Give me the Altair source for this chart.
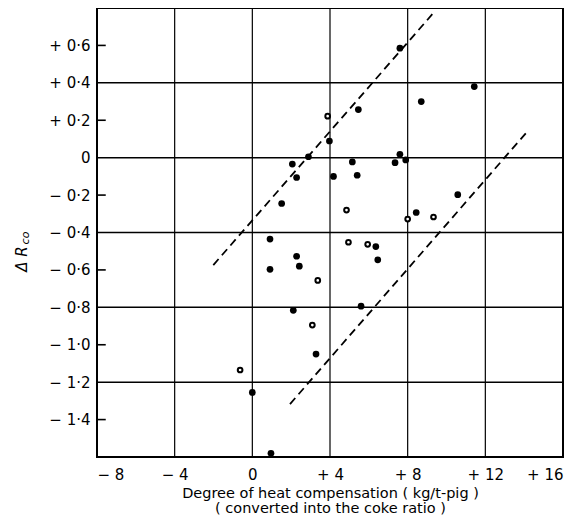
import altair as alt
import pandas as pd

# Filled points (degree of heat compensation, delta R_co)
filled_x = [7.6, 11.43, 8.7, 5.46, 3.97, 2.89, 2.06, 2.28, 1.51, 5.15, 5.4, 4.18,
            7.6, 7.35, 7.9, 10.58, 8.44, 6.36, 6.46, 5.6, 0.91, 0.91, 2.28, 2.42,
            2.11, 3.28, 0.0, 0.96]
filled_y = [0.585, 0.38, 0.30, 0.257, 0.089, 0.005, -0.034, -0.106, -0.245, -0.023, -0.094, -0.10,
            0.018, -0.027, -0.012, -0.198, -0.293, -0.475, -0.546, -0.794, -0.597, -0.435, -0.527, -0.58,
            -0.816, -1.05, -1.255, -1.58]

# Open points
open_x = [3.88, 4.85, 8.0, 9.33, 4.95, 5.94, 3.37, 3.09, -0.63]
open_y = [0.222, -0.28, -0.328, -0.317, -0.452, -0.463, -0.656, -0.895, -1.135]

# Dashed band lines (start/end)
band_name = ["upper", "lower"]
band_x1 = [-2.01, 1.94]
band_y1 = [-0.574, -1.317]
band_x2 = [9.28, 14.14]
band_y2 = [0.768, 0.137]

# Axes
x_ticks = [-8, -4, 0, 4, 8, 12, 16]
x_tick_labels = ["\u2212 8", "\u2212 4", "0", "+ 4", "+ 8", "+ 12", "+ 16"]
y_ticks = [0.6, 0.2, -0.2, -0.6, -1.0, -1.4]
y_tick_labels = ["+ 0\u00b76", "+ 0\u00b74", "+ 0\u00b72", "0", "\u2212 0\u00b72", "\u2212 0\u00b74",
                 "\u2212 0\u00b76", "\u2212 0\u00b78", "\u2212 1\u00b70", "\u2212 1\u00b72", "\u2212 1\u00b74"]
y_label_values = [0.6, 0.4, 0.2, 0.0, -0.2, -0.4, -0.6, -0.8, -1.0, -1.2, -1.4]
x_grid = [-4, 0, 4, 8, 12]
y_grid = [0.4, 0.0, -0.4, -0.8, -1.2]
tick_start = -8.0
tick_end = -7.55

x_title = ["Degree of heat compensation  ( kg/t-pig )", "( converted into the coke ratio )"]

FONT = "DejaVu Sans"

def chain_expr(values, labels, scale):
    expr = "''"
    for v, l in reversed(list(zip(values, labels))):
        expr = f"(round(datum.value*{scale})=={round(v*scale)}) ? '{l}' : ({expr})"
    return expr

xs = alt.Scale(domain=[-8, 16], nice=False, zero=False)
ys = alt.Scale(domain=[-1.6, 0.8], nice=False, zero=False)

filled_df = pd.DataFrame({"x": filled_x, "y": filled_y})
open_df = pd.DataFrame({"x": open_x, "y": open_y})
band_df = pd.DataFrame({"name": band_name, "xa": band_x1, "ya": band_y1, "xb": band_x2, "yb": band_y2})
vgrid_df = pd.DataFrame({"x": x_grid})
hgrid_df = pd.DataFrame({"y": y_grid})
tick_df = pd.DataFrame({"ty": y_ticks, "ta": [tick_start] * len(y_ticks), "tb": [tick_end] * len(y_ticks)})

x_axis = alt.Axis(values=x_ticks, labelExpr=chain_expr(x_ticks, x_tick_labels, 1), grid=False,
                  ticks=False, tickSize=0, domain=False, labelPadding=10, labelFontSize=15,
                  labelFont=FONT, labelColor="black", title=x_title, titleFont=FONT,
                  titleFontSize=14.5, titleFontWeight="normal", titleColor="black",
                  titlePadding=4, titleLineHeight=15)
y_axis = alt.Axis(values=y_label_values, labelExpr=chain_expr(y_label_values, y_tick_labels, 10), grid=False,
                  ticks=False, tickSize=0, domain=False, labelPadding=7, labelFontSize=15,
                  labelFont=FONT, labelColor="black", title=None)

vgrid = alt.Chart(vgrid_df).mark_rule(color="black", strokeWidth=1.2).encode(
    x=alt.X("x:Q", scale=xs, axis=x_axis))
hgrid = alt.Chart(hgrid_df).mark_rule(color="black", strokeWidth=1.5).encode(
    y=alt.Y("y:Q", scale=ys, axis=y_axis))
ticks = alt.Chart(tick_df).mark_rule(color="black", strokeWidth=1.6).encode(
    x=alt.X("ta:Q", scale=xs), x2=alt.X2("tb:Q"), y=alt.Y("ty:Q", scale=ys))
bands = alt.Chart(band_df).mark_rule(color="black", strokeWidth=1.8, strokeDash=[8, 5]).encode(
    x=alt.X("xa:Q", scale=xs), x2=alt.X2("xb:Q"), y=alt.Y("ya:Q", scale=ys), y2=alt.Y2("yb:Q"))
pts_filled = alt.Chart(filled_df).mark_point(shape="circle", filled=True, color="black", size=45, opacity=1).encode(
    x=alt.X("x:Q", scale=xs), y=alt.Y("y:Q", scale=ys))
pts_open = alt.Chart(open_df).mark_point(shape="circle", filled=False, stroke="black", fill="white",
                                         fillOpacity=1, strokeWidth=2, size=22, opacity=1).encode(
    x=alt.X("x:Q", scale=xs), y=alt.Y("y:Q", scale=ys))

ylab_df = pd.DataFrame({"t": ["\u0394 R"]})
ysub_df = pd.DataFrame({"t": ["co"]})
ylab = alt.Chart(ylab_df).mark_text(angle=270, fontStyle="italic", fontSize=15, font=FONT,
                                    baseline="middle", align="center", color="black").encode(
    text="t:N", x=alt.value(-75), y=alt.value(251))
ysub = alt.Chart(ysub_df).mark_text(angle=270, fontStyle="italic", fontSize=11, font=FONT,
                                    baseline="middle", align="center", color="black").encode(
    text="t:N", x=alt.value(-71), y=alt.value(230))

chart = alt.layer(vgrid, hgrid, ticks, bands, pts_open, pts_filled, ylab, ysub).properties(
    width=466, height=449,
    autosize=alt.AutoSizeParams(type="none"),
    padding={"left": 89, "top": 0, "right": 14, "bottom": 66},
    background="white",
).configure_view(stroke="black", strokeWidth=2)

chart.save("out.html", embed_options={"renderer": "svg", "actions": False})
